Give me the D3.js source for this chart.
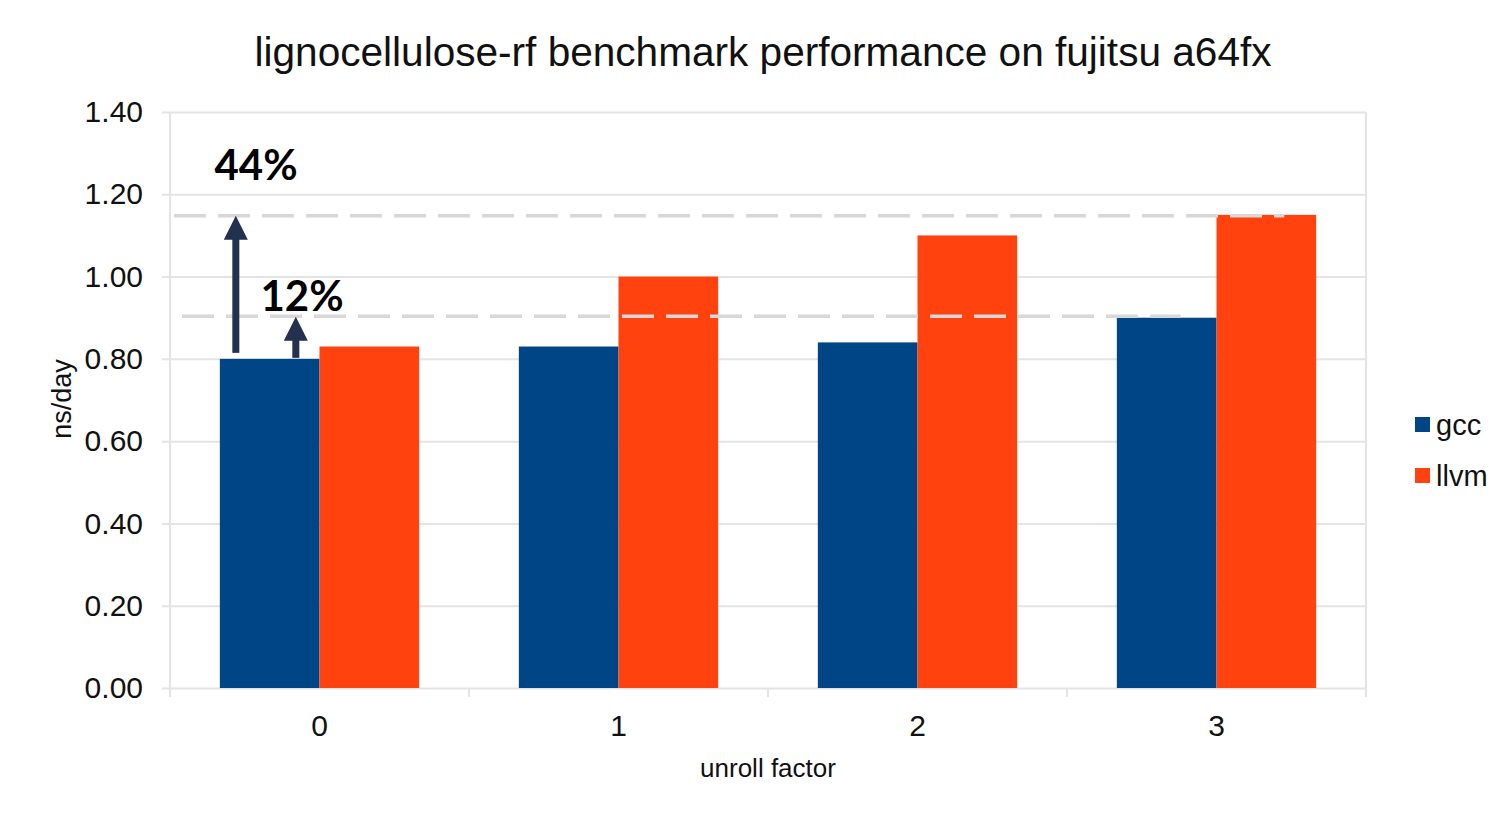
<!DOCTYPE html>
<html>
<head>
<meta charset="utf-8">
<script src="https://cdn.jsdelivr.net/npm/d3@7/dist/d3.min.js"></script>
<style>
  html, body { margin: 0; padding: 0; background: #fff; }
  svg { display: block; }
  text { font-family: "Liberation Sans", Arial, Helvetica, sans-serif; fill: #111; }
</style>
</head>
<body>
<svg id="chart" width="1502" height="815"></svg>
<script>
// Benchmark throughput (ns/day) per unroll factor for each compiler
const categories = ["0", "1", "2", "3"];
const seriesNames = ["gcc", "llvm"];
const gccValues = [0.80, 0.83, 0.84, 0.90];
const llvmValues = [0.83, 1.00, 1.10, 1.15];
const yTicks = [0, 0.2, 0.4, 0.6, 0.8, 1.0, 1.2, 1.4];

// Reference levels: best gcc result and best llvm result
const refLevels = [0.90, 1.15];
// Speed-up annotations measured from the gcc baseline at unroll factor 0
const gains = [
  { label: "44%", from: 0.80, to: 1.15 },
  { label: "12%", from: 0.80, to: 0.90 }
];

const colors = { gcc: "#004586", llvm: "#ff420e" };
const gridColor = "#e4e4e4";

const svg = d3.select("#chart");
const plotLeft = 170, plotRight = 1366, plotTop = 112, plotBottom = 688;

const x = d3.scaleBand().domain(categories).range([plotLeft, plotRight]).paddingInner(0).paddingOuter(0);
const sub = d3.scaleBand().domain(seriesNames).range([0, x.bandwidth()]).paddingInner(0).paddingOuter(0.5);
const y = d3.scaleLinear().domain([0, 1.4]).range([plotBottom, plotTop]);

const rows = categories.map((c, i) => ({ cat: c, gcc: gccValues[i], llvm: llvmValues[i] }));

// Title
svg.append("text")
  .attr("x", 763).attr("y", 66)
  .attr("text-anchor", "middle")
  .attr("font-size", 40)
  .attr("textLength", 1017)
  .attr("lengthAdjust", "spacingAndGlyphs")
  .text("lignocellulose-rf benchmark performance on fujitsu a64fx");

// Horizontal grid + y labels
const yAxis = d3.axisLeft(y)
  .tickValues(yTicks)
  .tickFormat(d3.format(".2f"))
  .tickSize(-(plotRight - plotLeft + 8))
  .tickPadding(19);
const gy = svg.append("g").attr("transform", `translate(${plotLeft - 8},0)`).call(yAxis);
gy.select(".domain").remove();
gy.selectAll(".tick line").attr("stroke", gridColor).attr("stroke-width", 2);
gy.selectAll(".tick text")
  .attr("font-size", 30)
  .attr("font-family", "Liberation Sans, Arial, sans-serif")
  .attr("fill", "#111");

// Vertical frame lines and category separators
const seps = categories.map(c => x(c)).concat([plotRight]);
svg.append("g").selectAll("line").data(seps).join("line")
  .attr("x1", d => d).attr("x2", d => d)
  .attr("y1", (d, i) => (i === 0 || i === seps.length - 1) ? plotTop : plotBottom)
  .attr("y2", plotBottom + 9)
  .attr("stroke", gridColor).attr("stroke-width", 2);

// X labels
const xAxis = d3.axisBottom(x).tickSize(0).tickPadding(27);
const gx = svg.append("g").attr("transform", `translate(0,${plotBottom})`).call(xAxis);
gx.select(".domain").remove();
gx.selectAll(".tick text")
  .attr("font-size", 30)
  .attr("font-family", "Liberation Sans, Arial, sans-serif")
  .attr("fill", "#111");

// Bars
const groups = svg.append("g").selectAll("g").data(rows).join("g")
  .attr("transform", d => `translate(${x(d.cat)},0)`);
groups.selectAll("rect")
  .data(d => seriesNames.map(s => ({ s, v: d[s] })))
  .join("rect")
  .attr("x", d => sub(d.s))
  .attr("width", sub.bandwidth())
  .attr("y", d => y(d.v))
  .attr("height", d => y(0) - y(d.v))
  .attr("fill", d => colors[d.s]);

// Axis titles
svg.append("text")
  .attr("x", 768).attr("y", 777)
  .attr("text-anchor", "middle")
  .attr("font-size", 26)
  .text("unroll factor");

svg.append("text")
  .attr("transform", "translate(71,399) rotate(-90)")
  .attr("text-anchor", "middle")
  .attr("font-size", 27)
  .text("ns/day");

// Legend
const legend = svg.append("g").selectAll("g").data(seriesNames).join("g")
  .attr("transform", (d, i) => `translate(1415,${417 + i * 51})`);
legend.append("rect").attr("width", 15).attr("height", 15).attr("fill", d => colors[d]);
legend.append("text").attr("x", 21).attr("y", 8).attr("dy", "0.36em")
  .attr("font-size", 29).text(d => d);

// Dashed reference levels
const lastBand = x(categories[categories.length - 1]);
const refEnds = [lastBand + sub("gcc") + sub.bandwidth() * 0.64, lastBand + sub("llvm") + sub.bandwidth() * 0.68];
const refStarts = [plotLeft + 12, plotLeft + 4];
const refNudge = [-1.5, 1];
svg.append("g").selectAll("line").data(refLevels).join("line")
  .attr("x1", (d, i) => refStarts[i])
  .attr("x2", (d, i) => refEnds[i])
  .attr("y1", (d, i) => y(d) + refNudge[i]).attr("y2", (d, i) => y(d) + refNudge[i])
  .attr("stroke", "#d8d8d8")
  .attr("stroke-width", 3.5)
  .attr("stroke-dasharray", "32 12");

// Gain arrows
const arrowColor = "#22314e";
const gccBarX = x(categories[0]) + sub("gcc");
const arrowXs = [gccBarX + 16, gccBarX + 76];
const gapBelow = [6, 1];
const arrows = svg.append("g").selectAll("g").data(gains).join("g");
arrows.append("rect")
  .attr("x", (d, i) => arrowXs[i] - 3.5)
  .attr("width", 7)
  .attr("y", d => y(d.to) + 20)
  .attr("height", (d, i) => y(d.from) - gapBelow[i] - (y(d.to) + 20));
arrows.append("path")
  .attr("d", (d, i) => {
    const cx = arrowXs[i], ty = y(d.to) + (i === 0 ? 1 : -1);
    return `M${cx},${ty} L${cx + 12},${ty + 24} L${cx - 12},${ty + 24} Z`;
  });
arrows.attr("fill", arrowColor);

// Gain labels
const labelPos = [[256, 180], [302, 311]];
svg.append("g").selectAll("text").data(gains).join("text")
  .attr("x", (d, i) => labelPos[i][0])
  .attr("y", (d, i) => labelPos[i][1])
  .attr("text-anchor", "middle")
  .attr("font-weight", 700)
  .attr("font-size", 42)
  .style("font-family", "Lato, 'Open Sans', sans-serif")
  .style("fill", "#000")
  .text(d => d.label);
</script>
</body>
</html>
